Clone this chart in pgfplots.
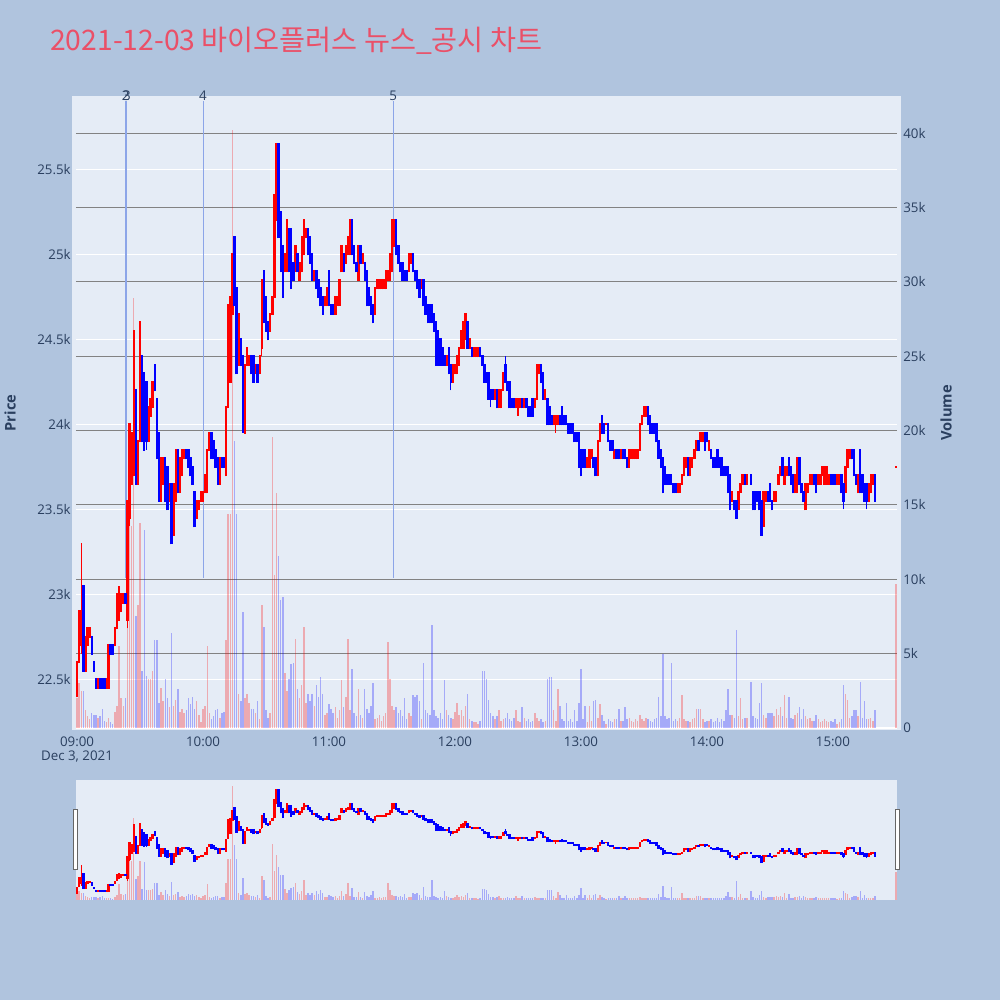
\documentclass[border=0pt]{standalone}
\usepackage{pgfplots}
\usepackage{pgfplotstable}
\pgfplotsset{compat=1.18}
\usepackage{fontspec}
\setmainfont{Open Sans}
\newfontfamily\cjk{Noto Sans CJK KR}
\definecolor{outerbg}{RGB}{176,196,222}
\definecolor{plotbg}{RGB}{229,236,246}
\definecolor{tickc}{RGB}{42,63,95}
\definecolor{gridgray}{RGB}{130,130,130}
\definecolor{titlec}{RGB}{234,80,104}
\definecolor{evc}{RGB}{140,165,232}

% up (red) candles: minute, open, close, volume
\pgfplotstableread{
m o c v
0 22400 22600 2000
1 22600 22900 3000
2 22700 22900 2500
4 22550 22750 1200
5 22700 22800 800
6 22750 22800 600
10 22450 22500 700
14 22450 22500 400
15 22450 22700 700
18 22700 22800 1100
19 22800 23000 1500
20 22850 23000 5500
21 22900 23000 2000
22 22950 23000 1500
24 22850 23550 8300
25 23450 24000 15200
26 23650 23950 13600
27 23700 24550 28900
29 23650 23900 8300
30 23900 24600 13800
34 23900 24100 3300
35 24050 24150 3300
36 24100 24250 3800
40 23550 23800 2700
41 23650 23800 1800
44 23550 23650 1400
46 23350 23650 1500
47 23550 23850 1900
49 23600 23800 1100
50 23700 23850 1300
51 23800 23850 1000
57 23450 23550 1800
58 23500 23550 900
59 23550 23600 400
60 23550 23600 1300
61 23600 23700 1500
62 23600 23850 5500
63 23850 23950 1000
68 23650 23800 700
71 23700 24100 5900
72 24100 24700 14400
73 24250 24750 14400
74 24650 25000 40200
77 24350 24650 2300
80 23950 24350 2000
81 24350 24450 2300
82 24350 24400 1700
85 24300 24350 1000
87 24300 24400 600
88 24450 24850 8300
92 24550 24650 1000
93 24650 24750 19600
94 24750 25350 10300
95 25200 25650 15800
99 24900 25000 3700
100 24900 25200 2500
104 24900 25050 6000
106 24850 24950 2000
107 24900 25100 2900
108 25000 25200 6800
109 25100 25150 1700
113 24850 24900 1500
118 24700 24750 900
119 24700 24800 1000
123 24650 24750 1400
124 24700 24750 700
125 24700 24850 1200
126 24900 25050 3200
128 24950 25050 2100
129 25000 25100 6000
130 25000 25200 1200
134 24850 25050 2600
136 24950 25000 700
142 24650 24800 600
143 24800 24850 700
144 24800 24850 900
145 24800 24850 500
146 24800 24850 800
147 24800 24900 1000
148 24850 24900 5800
149 24850 25000 3300
150 24900 25200 1500
151 25050 25200 1200
158 24900 25000 1000
159 24950 25000 800
164 24800 24850 600
176 24350 24400 1200
179 24250 24350 600
180 24300 24350 1100
181 24300 24400 1700
182 24350 24450 900
183 24450 24550 1200
184 24450 24600 800
185 24500 24650 1500
187 24450 24500 600
189 24400 24450 400
190 24400 24450 400
191 24400 24450 300
199 24150 24200 600
201 24100 24200 1200
202 24100 24200 500
203 24200 24300 600
209 24100 24150 1200
210 24100 24150 500
211 24100 24150 400
213 24100 24150 700
218 24100 24150 1000
219 24150 24350 700
220 24300 24350 500
223 24150 24200 500
227 24000 24050 1200
228 24000 24050 500
229 24000 24050 2600
243 23750 23800 400
244 23750 23850 1500
245 23800 23850 500
248 23700 23900 700
249 23900 24000 1600
252 24000 24000 300
256 23800 23850 600
259 23800 23850 500
263 23750 23850 700
264 23800 23850 500
265 23800 23850 400
266 23800 23850 600
267 23800 23850 500
268 23850 24000 900
269 24000 24050 600
270 24050 24100 500
271 24050 24100 700
286 23600 23650 500
287 23600 23650 700
288 23650 23700 2200
289 23700 23800 600
290 23750 23800 500
292 23700 23800 400
293 23750 23800 600
294 23800 23850 700
295 23850 23900 1300
297 23900 23950 1300
298 23900 23950 600
301 23850 23900 500
312 23550 23600 900
315 23500 23600 800
316 23600 23650 2000
317 23650 23700 600
319 23650 23700 700
327 23400 23600 900
328 23550 23600 700
332 23550 23600 800
333 23550 23600 1300
334 23650 23700 900
335 23700 23750 1400
337 23650 23750 2200
338 23700 23750 700
342 23600 23700 900
343 23600 23800 1000
347 23500 23650 800
348 23600 23650 600
349 23650 23700 700
350 23650 23700 500
353 23650 23700 600
354 23650 23700 400
355 23700 23750 500
356 23650 23750 600
357 23650 23750 500
358 23650 23700 400
362 23650 23700 300
363 23650 23700 400
366 23600 23750 2300
367 23750 23850 1900
368 23800 23850 700
372 23600 23700 800
377 23550 23650 600
378 23600 23700 700
379 23650 23700 500
390 23750 23750 9700
}\upT

% down (blue) candles: minute, open, close, volume
\pgfplotstableread{
m o c v
3 23050 22550 2500
7 22750 22650 1000
8 22600 22550 900
9 22500 22450 900
11 22500 22450 800
12 22500 22450 1300
13 22500 22450 500
16 22700 22650 400
17 22700 22650 300
23 23000 22950 2000
28 24200 23650 7500
31 24400 23900 3800
32 24300 23850 13300
33 24250 23900 3500
37 24350 24200 5900
38 24150 23800 5900
39 23950 23550 1700
42 23800 23550 3300
43 23750 23500 2000
45 23650 23300 6400
48 23850 23600 2600
52 23850 23800 1200
53 23850 23750 2000
54 23800 23700 1600
55 23750 23650 2100
56 23600 23400 1300
64 23950 23800 600
65 23900 23800 800
66 23850 23750 1200
67 23800 23650 1300
69 23800 23750 1000
70 23800 23750 1100
75 25100 24700 19300
76 24800 24300 14400
78 24500 24350 1800
79 24400 24000 7800
83 24400 24300 1300
84 24400 24250 1300
86 24350 24250 1800
89 24900 24600 6800
90 24750 24550 1200
91 24600 24500 700
96 25650 25100 11600
97 25250 24900 8600
98 25050 24750 8800
101 25150 24900 3300
102 25150 24800 4300
103 24950 24850 4400
105 25000 24900 2600
110 25150 25000 2300
111 25100 24950 1800
112 25000 24850 2300
114 24900 24800 2900
115 24850 24750 2100
116 24800 24700 3400
117 24750 24650 2300
120 24900 24700 1600
121 24700 24650 1300
122 24700 24650 1000
127 25000 24900 1400
131 25200 25000 4000
132 25050 24950 1000
133 24950 24900 800
135 25050 24950 900
137 24950 24850 2600
138 24900 24700 1300
139 24800 24700 1000
140 24750 24650 1500
141 24700 24600 3000
152 25200 25000 1400
153 25050 24950 1000
154 24950 24900 1200
155 24950 24850 800
156 24900 24850 2000
157 24900 24850 600
160 25000 24900 2200
161 24900 24850 2100
162 24900 24800 2200
163 24850 24750 1800
165 24850 24700 4400
166 24750 24650 1200
167 24700 24600 1000
168 24700 24600 900
169 24700 24600 6900
170 24650 24550 1200
171 24600 24350 800
172 24550 24350 700
173 24500 24350 1000
174 24450 24350 600
175 24400 24350 3200
177 24450 24300 900
178 24350 24250 700
186 24600 24450 2300
188 24450 24400 500
192 24450 24400 500
193 24400 24350 3800
194 24350 24250 3800
195 24300 24250 3300
196 24300 24150 1900
197 24200 24150 1000
198 24200 24150 800
200 24200 24100 800
204 24350 24250 700
205 24250 24200 1000
206 24250 24100 600
207 24150 24100 500
208 24150 24100 700
212 24150 24100 1400
214 24150 24100 500
215 24100 24050 600
216 24100 24050 400
217 24150 24050 500
221 24350 24250 600
222 24300 24150 400
224 24150 24000 3300
225 24100 24000 3400
226 24050 24000 3400
230 24050 24000 1500
231 24100 24000 600
232 24050 24000 500
233 24050 24000 1700
234 24000 23950 500
235 24000 23950 600
236 24000 23950 400
237 23950 23900 1200
238 23950 23900 500
239 23950 23750 1700
240 23850 23700 4000
241 23850 23750 600
242 23850 23750 1500
246 23800 23750 1800
247 23800 23700 1900
250 24050 23950 900
251 24000 23950 500
253 24000 23900 600
254 23900 23850 500
255 23900 23850 400
257 23850 23800 600
258 23850 23800 1300
260 23850 23800 500
261 23850 23800 1400
262 23800 23750 600
272 24100 24000 600
273 24050 23950 500
274 24000 23950 400
275 24000 23950 600
276 24000 23900 700
277 23900 23800 2100
278 23850 23750 800
279 23800 23600 5000
280 23750 23650 800
281 23700 23650 600
282 23700 23650 700
283 23700 23650 4400
284 23650 23600 500
285 23650 23600 600
291 23800 23700 500
296 23900 23850 1300
299 23950 23850 400
300 23950 23900 500
302 23850 23800 600
303 23800 23750 400
304 23800 23750 500
305 23850 23750 700
306 23800 23750 400
307 23800 23700 600
308 23750 23700 500
309 23750 23700 1200
310 23750 23600 2600
311 23700 23500 900
313 23550 23500 700
314 23550 23450 6600
318 23700 23650 700
321 23700 23650 3100
322 23600 23500 800
323 23600 23500 700
324 23600 23550 600
325 23600 23500 1700
326 23550 23350 3000
329 23600 23550 1000
330 23650 23550 1000
331 23550 23500 1000
336 23800 23700 800
339 23800 23700 2100
340 23750 23650 700
341 23700 23600 600
344 23800 23650 1400
345 23650 23600 600
346 23600 23550 1300
351 23700 23650 500
352 23700 23600 900
359 23700 23650 500
360 23700 23650 400
361 23700 23650 600
364 23700 23600 600
365 23650 23550 2900
369 23850 23800 800
370 23850 23700 1200
371 23700 23650 1200
373 23850 23600 3100
374 23700 23600 700
375 23650 23550 1800
376 23650 23550 600
380 23700 23550 1200
}\dnT

% wicks beyond the bodies: minute, high, low
\pgfplotstableread{
m h l
2 23300 22650
20 23050 22850
24 23550 22800
25 24000 23400
88 24850 24400
210 24150 24050
228 24050 23950
}\upW
\pgfplotstableread{
m h l
33 24250 23850
79 24400 23950
178 24350 24200
197 24200 24100
204 24400 24250
365 23650 23500
376 23650 23500
}\dnW

\pgfplotsset{
  mainax/.style={scale only axis, width=615.75pt, height=475.5pt,
    at={(57pt,202.5pt)}, anchor=south west, xmin=-0.5, xmax=390.5,
    scaled x ticks=false, scaled y ticks=false,
    axis line style={draw=none}, tick style={draw=none}, major tick length=0pt,
    tick label style={font=\fontsize{10}{12}\selectfont, text=tickc}},
  sliderax/.style={scale only axis, width=615.75pt, height=90pt,
    at={(57pt,75pt)}, anchor=south west, xmin=-0.5, xmax=390.5, hide axis},
  body/.style={draw=none, mark=none, forget plot, error bars/.cd, y dir=plus, y explicit,
    error mark=none, error bar style={line width=1.8pt, line cap=butt, draw=#1}},
  wick/.style={draw=none, mark=none, forget plot, error bars/.cd, y dir=plus, y explicit,
    error mark=none, error bar style={line width=0.9pt, line cap=butt, draw=#1}},
  vol/.style={ycomb, mark=none, forget plot, draw=#1, draw opacity=0.28, line width=1.1pt},
}

\begin{document}
\begin{tikzpicture}
\begin{scope}[x=0.75pt,y=0.75pt]
\fill[outerbg] (0,0) rectangle (1000,1000);
\fill[plotbg] (72,270) rectangle (901,904);
\fill[plotbg] (76,100) rectangle (897,220);
\end{scope}

% price grid (white)
\begin{axis}[mainax, ymin=22202, ymax=25931, ytick={22500,23000,...,25500},
  yticklabels={}, y tick label style={opacity=0}, xtick=\empty,
  ymajorgrids, grid style={white, line width=0.8pt}]
\addplot[draw=none, mark=none, forget plot] coordinates {(0,23000)};
\end{axis}

% volume axis
\begin{axis}[mainax, ymin=-134, ymax=42502, ytick={5000,10000,...,40000},
  yticklabels={5k,10k,15k,20k,25k,30k,35k,40k},
  extra y ticks={0}, extra y tick labels={0},
  extra y tick style={grid style={white, line width=0.8pt}},
  yticklabel pos=right, yticklabel style={anchor=west, inner sep=0pt, xshift=4.5pt},
  ymajorgrids, grid style={gridgray, line width=0.8pt}, xtick=\empty]
\addplot[vol=red] table[x=m, y=v] {\upT};
\addplot[vol=blue] table[x=m, y=v] {\dnT};
\end{axis}

% price axis with candles
\begin{axis}[mainax, clip=false, ymin=22202, ymax=25931,
  ytick={22500,23000,...,25500},
  yticklabels={22.5k,23k,23.5k,24k,24.5k,25k,25.5k},
  yticklabel style={anchor=east, inner sep=0pt, xshift=-3.75pt},
  xtick={0,60,...,360},
  xticklabels={09:00,10:00,11:00,12:00,13:00,14:00,15:00},
  xticklabel style={anchor=north, inner sep=0pt, yshift=-4.7pt}]
\draw[evc, line width=0.8pt] (axis cs:23.2,23096) -- (axis cs:23.2,25902);
\draw[evc, line width=0.8pt] (axis cs:23.7,23096) -- (axis cs:23.7,25902);
\draw[evc, line width=0.8pt] (axis cs:60,23096) -- (axis cs:60,25902);
\draw[evc, line width=0.8pt] (axis cs:150.5,23096) -- (axis cs:150.5,25902);
\addplot[wick=red] table[x=m, y=l, y error plus expr=\thisrow{h}-\thisrow{l}] {\upW};
\addplot[wick=blue] table[x=m, y=l, y error plus expr=\thisrow{h}-\thisrow{l}] {\dnW};
\addplot[body=red] table[x=m, y expr=\thisrow{o}-6, y error plus expr=\thisrow{c}-\thisrow{o}+12] {\upT};
\addplot[body=blue] table[x=m, y expr=\thisrow{c}-6, y error plus expr=\thisrow{o}-\thisrow{c}+12] {\dnT};
\foreach \xx/\lab in {23.2/2, 23.7/3, 60/4, 150.5/5}{
  \edef\tmp{\noexpand\node[font=\noexpand\fontsize{10}{12}\noexpand\selectfont, text=tickc, inner sep=0pt] at (axis cs:\xx,25931) {\lab};}\tmp
}
\end{axis}

% range slider
\begin{axis}[sliderax, ymin=-134, ymax=42502]
\addplot[vol=red] table[x=m, y=v] {\upT};
\addplot[vol=blue] table[x=m, y=v] {\dnT};
\end{axis}
\begin{axis}[sliderax, ymin=22202, ymax=25931]
\addplot[wick=red] table[x=m, y=l, y error plus expr=\thisrow{h}-\thisrow{l}] {\upW};
\addplot[wick=blue] table[x=m, y=l, y error plus expr=\thisrow{h}-\thisrow{l}] {\dnW};
\addplot[body=red] table[x=m, y expr=\thisrow{o}-6, y error plus expr=\thisrow{c}-\thisrow{o}+12] {\upT};
\addplot[body=blue] table[x=m, y expr=\thisrow{c}-6, y error plus expr=\thisrow{o}-\thisrow{c}+12] {\dnT};
\end{axis}

\begin{scope}[x=0.75pt,y=0.75pt]
\draw[fill=white, draw=gray!80!black, line width=0.75pt] (73.5,130) rectangle (77.5,190);
\draw[fill=white, draw=gray!80!black, line width=0.75pt] (895.5,130) rectangle (899.5,190);
\node[anchor=west, text=titlec, inner sep=0pt, font=\cjk\fontsize{21.2}{25}\selectfont] at (50,959) {2021-12-03 바이오플러스 뉴스\_공시 차트};
\node[rotate=90, text=tickc, font=\bfseries\fontsize{11}{13}\selectfont] at (10,587) {Price};
\node[rotate=90, text=tickc, font=\bfseries\fontsize{11}{13}\selectfont] at (946,587) {Volume};
\node[text=tickc, font=\fontsize{10}{12}\selectfont] at (77,243) {Dec 3, 2021};
\end{scope}
\pgfresetboundingbox
\useasboundingbox (0,0) rectangle (750pt,750pt);
\end{tikzpicture}
\end{document}
